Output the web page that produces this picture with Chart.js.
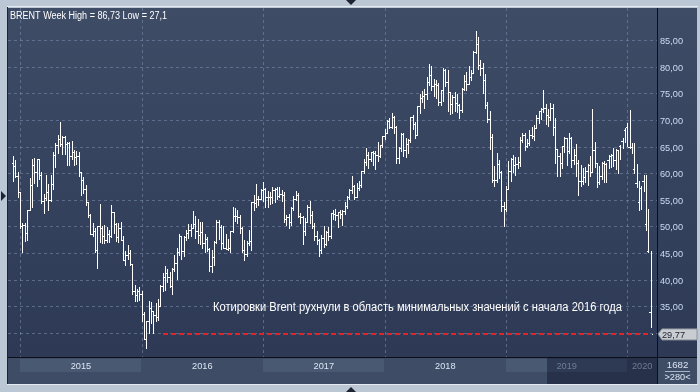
<!DOCTYPE html>
<html>
<head>
<meta charset="utf-8">
<script src="https://cdn.jsdelivr.net/npm/chart.js@4.4.1/dist/chart.umd.min.js"></script>
<style>
  html, body { margin: 0; padding: 0; background: #bcc7d6; }
  #wrap { width: 700px; height: 392px; position: relative; }
</style>
</head>
<body>
<div id="wrap"><canvas id="brent" width="700" height="392"></canvas></div>
<script>
// weekly Brent bars, week of 15.12.2014 .. week of 16.03.2020
const opens = [
  61.9,61.4,59.5,56.4,50.1,50.2,48.8,53.0,57.8,61.5,60.2,62.6,59.7,54.7,55.3,56.4,54.9,57.9,63.5,65.3,
  66.5,65.4,66.8,65.4,65.6,63.3,63.9,63.0,63.3,60.3,58.7,57.1,54.6,52.2,48.6,49.2,45.5,50.1,49.6,48.1,
  47.5,48.6,48.1,52.7,50.5,48.0,49.6,47.4,43.6,44.7,44.9,43.0,37.9,37.0,37.9,37.3,33.6,28.9,32.2,34.7,
  34.1,33.4,33.0,35.1,38.7,40.4,41.2,40.4,38.7,41.9,43.1,45.1,48.1,45.4,48.0,48.7,49.3,49.6,50.5,49.2,
  48.4,49.0,46.8,47.6,45.7,42.5,44.3,47.0,50.9,49.9,46.8,46.0,45.8,45.9,49.2,52.0,51.9,51.8,49.7,45.6,
  44.8,46.9,47.2,54.5,54.3,55.2,55.2,56.8,57.1,55.5,55.5,55.5,56.8,57.0,55.8,56.0,55.9,51.4,51.8,50.8,
  53.5,55.2,55.9,52.0,51.7,49.1,50.8,53.6,52.2,50.0,48.2,47.4,45.5,47.9,46.7,48.9,48.1,52.5,52.4,52.1,
  52.7,52.4,52.8,53.8,55.6,56.9,57.5,55.6,57.2,57.8,60.4,62.1,63.5,62.7,63.9,63.7,63.4,63.2,65.3,66.9,
  67.6,69.9,68.6,70.5,68.6,62.8,64.8,67.3,64.4,65.5,66.2,70.5,69.3,67.1,72.6,74.1,74.6,74.9,77.1,78.5,
  76.4,76.8,76.5,73.4,75.6,79.4,77.1,75.3,73.1,74.3,73.2,72.8,71.8,75.8,77.4,76.8,78.1,78.8,82.7,84.2,
  80.4,79.8,77.6,72.8,70.2,66.8,58.8,58.7,61.7,60.3,53.8,53.2,57.1,60.5,62.7,61.6,61.8,62.1,66.3,67.1,
  65.1,65.7,67.2,67.0,68.4,70.3,71.6,72.0,72.2,70.9,70.6,72.2,68.7,64.5,63.3,62.0,65.2,66.6,64.2,66.7,
  62.5,63.5,61.9,58.5,58.6,59.3,60.4,61.5,60.2,64.3,61.9,58.4,59.4,62.0,61.7,62.5,63.3,63.4,62.4,64.4,
  65.2,66.1,68.2,68.6,65.0,64.9,60.7,58.2,54.5,57.3,58.5,50.5,45.3,33.9
];
const highs = [
  63.3,62.4,60.3,56.5,50.6,50.7,53.0,59.1,62.6,62.9,62.6,62.6,60.3,56.0,59.7,57.9,59.7,64.0,65.7,67.1,
  69.6,67.0,66.9,65.8,65.9,66.0,64.4,64.1,64.0,60.3,59.3,57.8,54.6,52.3,50.7,49.6,50.1,54.2,50.0,50.2,
  49.9,49.3,54.0,52.7,50.6,50.6,50.9,48.1,45.4,46.4,45.6,43.0,38.9,38.3,38.5,37.9,33.8,32.2,36.0,35.7,
  34.1,35.6,36.4,38.9,41.2,42.5,41.9,41.5,42.1,44.7,45.9,48.5,48.1,48.2,49.3,50.5,50.5,52.9,51.9,51.4,
  50.8,50.8,48.5,48.0,45.9,45.5,47.2,51.2,51.2,50.3,50.0,48.5,47.6,49.2,53.7,53.4,53.0,52.2,49.8,47.4,
  47.3,49.3,54.5,55.9,57.9,55.8,57.1,58.4,57.2,56.7,56.4,57.4,57.3,57.4,57.4,56.9,56.4,52.2,52.4,53.6,
  55.8,56.7,56.2,52.6,52.0,51.6,54.0,54.7,52.9,50.6,49.2,47.6,48.4,50.0,49.1,49.9,52.6,53.0,53.2,52.7,
  53.0,53.0,54.5,55.8,57.0,59.5,57.7,58.2,58.5,60.5,62.7,64.7,64.0,64.0,64.1,64.1,65.8,65.3,67.0,68.3,
  70.0,70.4,71.3,70.7,68.8,65.0,67.5,67.6,66.6,66.4,70.6,71.0,69.6,72.7,74.8,75.5,75.8,78.0,80.5,80.2,
  77.8,77.5,77.0,75.6,79.8,79.5,79.4,75.3,74.7,75.3,74.8,73.0,76.0,78.4,79.1,80.1,79.4,83.0,86.7,85.7,
  81.3,80.8,78.6,73.4,71.6,67.4,61.3,63.7,62.4,60.5,54.6,57.6,62.2,62.9,63.4,63.0,63.1,66.8,67.6,67.5,
  66.4,68.1,68.7,69.0,71.0,71.6,72.3,75.6,73.0,72.0,73.2,73.0,70.3,64.6,63.8,65.2,66.8,66.6,67.5,66.8,
  64.6,65.5,62.5,61.5,61.0,61.2,61.8,63.3,72.0,65.9,62.0,61.3,62.1,62.2,62.0,63.5,63.6,64.7,64.6,64.4,
  65.3,66.6,68.5,69.5,71.8,65.6,65.7,61.7,58.6,57.5,59.7,59.7,53.2,45.3,35.6
];
const lows = [
  58.5,59.2,55.5,49.7,45.2,47.3,47.5,53.0,53.6,58.1,57.6,58.9,54.3,52.5,54.9,53.0,54.8,57.1,61.2,63.7,
  65.1,63.6,63.6,61.6,61.6,62.6,61.6,61.8,59.5,55.9,56.2,54.1,51.8,48.5,48.2,45.1,42.2,47.0,46.9,46.8,
  47.1,47.0,48.0,48.8,47.3,47.0,47.4,43.6,42.8,43.9,42.7,37.3,36.0,35.9,36.1,32.2,28.8,27.1,30.0,31.9,
  30.0,32.2,32.4,35.0,37.9,38.0,39.6,38.5,37.2,41.6,40.1,44.7,43.9,44.4,47.4,47.8,48.2,49.6,47.8,46.8,
  46.6,45.9,45.2,45.3,41.6,41.5,42.7,46.9,47.6,45.7,45.9,45.7,45.6,45.1,49.0,51.0,50.7,48.8,45.2,43.6,
  44.5,46.5,45.6,53.1,53.6,54.1,55.2,54.8,53.6,53.6,54.2,54.4,54.5,55.1,55.5,54.8,50.9,50.3,49.7,50.3,
  53.0,55.0,51.8,50.7,46.6,48.4,50.8,50.7,49.6,47.5,46.6,44.4,44.9,46.2,46.5,47.5,47.9,51.3,51.2,49.8,
  51.5,50.3,52.3,53.5,55.1,56.3,55.1,55.5,56.9,57.4,60.1,61.6,61.0,62.2,61.6,60.8,62.2,63.1,65.0,66.4,
  67.5,68.5,68.4,67.6,62.0,61.9,64.2,63.3,63.0,63.8,65.8,68.3,66.6,67.1,71.3,73.3,72.3,73.9,76.6,75.6,
  74.5,74.2,72.9,72.8,73.6,76.4,71.6,71.2,71.3,71.7,71.5,70.3,71.5,75.7,75.7,76.7,77.5,78.8,82.6,79.6,
  78.5,75.1,72.2,69.6,64.6,58.4,57.5,58.4,59.1,52.8,50.0,52.9,57.1,58.6,60.3,59.7,61.0,61.3,65.9,64.4,
  64.9,65.3,66.6,66.3,68.4,69.5,70.2,71.5,69.2,68.9,70.0,67.1,61.9,59.5,59.5,60.9,64.0,61.6,63.8,61.2,
  61.8,59.5,55.9,57.6,57.9,58.3,57.7,59.5,60.2,61.2,57.4,57.9,58.9,58.3,58.4,61.0,61.2,61.4,60.8,60.0,
  62.7,64.8,65.8,65.2,64.8,63.8,60.0,57.4,53.0,53.3,56.7,49.3,45.2,31.0,29.6
];
const closes = [
  61.4,59.5,56.4,50.1,50.2,48.8,53.0,57.8,61.5,60.2,62.6,59.7,54.7,55.3,56.4,54.9,57.9,63.5,65.3,66.5,
  65.4,66.8,65.4,65.6,63.3,63.9,63.0,63.3,60.3,58.7,57.1,54.6,52.2,48.6,49.2,45.5,50.1,49.6,48.1,47.5,
  48.6,48.1,52.7,50.5,48.0,49.6,47.4,43.6,44.7,44.9,43.0,37.9,37.0,37.9,37.3,33.6,28.9,32.2,34.7,34.1,
  33.4,33.0,35.1,38.7,40.4,41.2,40.4,38.7,41.9,43.1,45.1,48.1,45.4,48.0,48.7,49.3,49.6,50.5,49.2,48.4,
  49.0,46.8,47.6,45.7,42.5,44.3,47.0,50.9,49.9,46.8,46.0,45.8,45.9,49.2,52.0,51.9,51.8,49.7,45.6,44.8,
  46.9,47.2,54.5,54.3,55.2,55.2,56.8,57.1,55.5,55.5,55.5,56.8,57.0,55.8,56.0,55.9,51.4,51.8,50.8,53.5,
  55.2,55.9,52.0,51.7,49.1,50.8,53.6,52.2,50.0,48.2,47.4,45.5,47.9,46.7,48.9,48.1,52.5,52.4,52.1,52.7,
  52.4,52.8,53.8,55.6,56.9,57.5,55.6,57.2,57.8,60.4,62.1,63.5,62.7,63.9,63.7,63.4,63.2,65.3,66.9,67.6,
  69.9,68.6,70.5,68.6,62.8,64.8,67.3,64.4,65.5,66.2,70.5,69.3,67.1,72.6,74.1,74.6,74.9,77.1,78.5,76.4,
  76.8,76.5,73.4,75.6,79.4,77.1,75.3,73.1,74.3,73.2,72.8,71.8,75.8,77.4,76.8,78.1,78.8,82.7,84.2,80.4,
  79.8,77.6,72.8,70.2,66.8,58.8,58.7,61.7,60.3,53.8,53.2,57.1,60.5,62.7,61.6,61.8,62.1,66.3,67.1,65.1,
  65.7,67.2,67.0,68.4,70.3,71.6,72.0,72.2,70.9,70.6,72.2,68.7,64.5,63.3,62.0,65.2,66.6,64.2,66.7,62.5,
  63.5,61.9,58.5,58.6,59.3,60.4,61.5,60.2,64.3,61.9,58.4,59.4,62.0,61.7,62.5,63.3,63.4,62.4,64.4,65.2,
  66.1,68.2,68.6,65.0,64.9,60.7,58.2,54.5,57.3,58.5,50.5,45.3,33.9,29.77
];

const yTicks = [35, 40, 45, 50, 55, 60, 65, 70, 75, 80, 85];
const yGrid = [30, 35, 40, 45, 50, 55, 60, 65, 70, 75, 80, 85];
const yearLabels = ["2015", "2016", "2017", "2018", "2019", "2020"];
const yearStarts = [3, 55, 107, 159, 211, 263];   // index of first weekly bar of each year
const lastPrice = 29.77;
const supportLevel = 29.77;
const titleText = "BRENT Week High = 86,73 Low = 27,1";
const noteText = "Котировки Brent рухнули в область минимальных значений с начала 2016 года";
const barsTotal = "1682";
const barsShown = ">280<";

const FONT = "'Liberation Sans', Arial, sans-serif";

// text drawn with a horizontal squeeze to hit the target width
function txt(ctx, s, x, y, size, color, align, width) {
  ctx.save();
  ctx.font = size + "px " + FONT;
  ctx.fillStyle = color;
  ctx.textBaseline = "alphabetic";
  const w = ctx.measureText(s).width;
  const sx = width ? width / w : 1;
  let ox = 0;
  if (align === "center") ox = -w * sx / 2;
  if (align === "right") ox = -w * sx;
  ctx.translate(x + ox, y);
  ctx.scale(sx, 1);
  ctx.fillText(s, 0, 0);
  ctx.restore();
}

const frame = {
  id: "frame",
  beforeDraw(chart) {
    const { ctx, chartArea: a, scales: { x, y } } = chart;
    ctx.save();
    // outer page
    ctx.fillStyle = "#bcc7d6";
    ctx.fillRect(0, 0, 700, 392);
    // plot + right axis background
    const g = ctx.createLinearGradient(0, a.top, 0, a.bottom);
    g.addColorStop(0, "#3e4c66");
    g.addColorStop(1, "#2d3955");
    ctx.fillStyle = g;
    ctx.fillRect(a.left, a.top, 697 - a.left, a.bottom - a.top);

    // year band
    ctx.fillStyle = "#3e4c66";
    ctx.fillRect(a.left, a.bottom, 697 - a.left, 384 - a.bottom);
    const xs = yearStarts.map((i) => x.getPixelForValue(i));
    ctx.fillStyle = "#4a5972";
    ctx.fillRect(Math.round(xs[0]), a.bottom + 2, Math.round(xs[1] - xs[0]), 13);
    ctx.fillRect(Math.round(xs[2]), a.bottom + 2, Math.round(xs[3] - xs[2]), 13);
    ctx.fillRect(Math.round(xs[4]), a.bottom + 2, 547 - Math.round(xs[4]), 13);
    // inactive part of the band
    ctx.fillStyle = "#27324a";
    ctx.fillRect(547, a.bottom, a.right - 547, 384 - a.bottom);
    ctx.fillStyle = "#2e3a53";
    ctx.fillRect(547, a.bottom + 2, Math.round(xs[5]) - 547, 13);

    // grid
    ctx.strokeStyle = "rgba(118,136,168,0.6)";
    ctx.lineWidth = 1;
    ctx.setLineDash([3, 3]);
    yGrid.forEach((v) => {
      const py = Math.round(y.getPixelForValue(v)) + 0.5;
      ctx.beginPath();
      ctx.moveTo(a.left, py);
      ctx.lineTo(a.right, py);
      ctx.stroke();
    });
    xs.forEach((px) => {
      const p = Math.round(px) + 0.5;
      ctx.beginPath();
      ctx.moveTo(p, a.top);
      ctx.lineTo(p, a.bottom);
      ctx.stroke();
    });
    ctx.setLineDash([]);
    ctx.restore();
  },
  afterDraw(chart) {
    const { ctx, chartArea: a, scales: { x, y } } = chart;
    ctx.save();

    // OHLC bars
    ctx.fillStyle = "#ffffff";
    for (let i = 0; i < closes.length; i++) {
      const px = Math.round(x.getPixelForValue(i));
      const yh = Math.round(y.getPixelForValue(highs[i]));
      const yl = Math.round(y.getPixelForValue(lows[i]));
      ctx.fillRect(px, yh, 1, Math.max(1, yl - yh + 1));
      ctx.fillRect(px - 1, Math.round(y.getPixelForValue(opens[i])), 1, 1);
      ctx.fillRect(px + 1, Math.round(y.getPixelForValue(closes[i])), 1, 1);
    }

    // support line
    const sy = Math.round(y.getPixelForValue(supportLevel));
    ctx.strokeStyle = "#e3232b";
    ctx.lineWidth = 2;
    ctx.setLineDash([5, 3]);
    ctx.beginPath();
    ctx.moveTo(163, sy);
    ctx.lineTo(650, sy);
    ctx.stroke();
    ctx.setLineDash([]);

    // separators
    ctx.fillStyle = "#0b0f18";
    ctx.fillRect(a.left, a.bottom, 697 - a.left, 1);
    ctx.fillRect(a.right, a.top, 1, 384 - a.top);
    // panel border
    ctx.fillStyle = "#1c2434";
    ctx.fillRect(7, 7, 1, 378);
    ctx.fillStyle = "#e6ebf2";
    ctx.fillRect(7, 6, 691, 1);
    ctx.fillRect(7, 384, 691, 1);

    // texts
    txt(ctx, titleText, 10, 19, 10, "#ffffff", "left", 157);
    txt(ctx, noteText, 213, 310.5, 12, "#ffffff", "left", 409);

    yTicks.forEach((v) => {
      const py = y.getPixelForValue(v);
      txt(ctx, v.toFixed(2).replace(".", ","), 660, py + 4, 9, "#cddcf2", "left", 23);
    });

    // last price tag
    const ly = y.getPixelForValue(lastPrice);
    ctx.fillStyle = "#c9ccd1";
    ctx.strokeStyle = "#8e949d";
    ctx.lineWidth = 1;
    ctx.beginPath();
    ctx.moveTo(658, ly);
    ctx.lineTo(662, ly - 5);
    ctx.lineTo(697, ly - 5);
    ctx.lineTo(697, ly + 6);
    ctx.lineTo(662, ly + 6);
    ctx.closePath();
    ctx.fill();
    ctx.stroke();
    txt(ctx, lastPrice.toFixed(2).replace(".", ","), 662, ly + 4, 9, "#1b2030", "left", 23);

    // year labels
    const xs = yearStarts.map((i) => x.getPixelForValue(i));
    yearLabels.forEach((lab, k) => {
      const x1 = k + 1 < xs.length ? xs[k + 1] : a.right;
      const col = k >= 4 ? "#6f7c93" : "#dce6f4";
      txt(ctx, lab, (xs[k] + x1) / 2, 368.5, 9, col, "center", 20.5);
    });

    // bar counter box
    txt(ctx, barsTotal, 677.5, 367.5, 9, "#dce6f4", "center", 21.5);
    ctx.fillStyle = "#a9b5c6";
    ctx.fillRect(665, 371, 25, 1);
    txt(ctx, barsShown, 677.5, 380, 9, "#dce6f4", "center", 26);

    // little scroll markers
    ctx.fillStyle = "#1d2331";
    ctx.beginPath();
    ctx.moveTo(346, 0); ctx.lineTo(356, 0); ctx.lineTo(351, 5); ctx.closePath(); ctx.fill();
    ctx.beginPath();
    ctx.moveTo(346, 392); ctx.lineTo(356, 392); ctx.lineTo(351, 387); ctx.closePath(); ctx.fill();
    ctx.beginPath();
    ctx.moveTo(1, 191); ctx.lineTo(6, 196); ctx.lineTo(1, 201); ctx.closePath(); ctx.fill();
    ctx.restore();
  },
};

new Chart(document.getElementById("brent"), {
  type: "line",
  data: {
    datasets: [{
      data: closes.map((c, i) => ({ x: i, y: c })),
      showLine: false,
      pointRadius: 0,
    }],
  },
  options: {
    responsive: false,
    animation: false,
    events: [],
    layout: { padding: { left: 8, top: 8, right: 43, bottom: 35 } },
    plugins: { legend: { display: false }, tooltip: { enabled: false } },
    scales: {
      x: { type: "linear", min: -2.205, max: 275.65, display: false },
      y: { min: 25.43, max: 91.06, display: false },
    },
  },
  plugins: [frame],
});
</script>
</body>
</html>
